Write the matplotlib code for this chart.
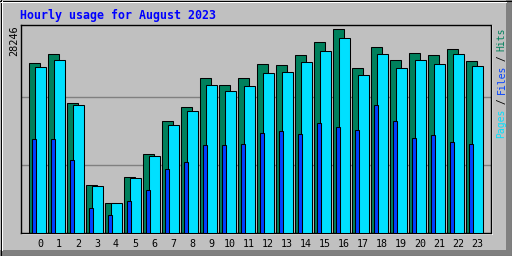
import matplotlib
matplotlib.use("Agg")
from matplotlib import pyplot as plt
from matplotlib.patches import Rectangle
import numpy as np

# Hourly usage, August 2023
hours = list(range(24))
hits = [23514, 24768, 17950, 6540, 4035, 7653, 10853, 15445, 17393, 21428,
        20454, 21428, 23376, 23237, 24628, 26437, 28246, 22820, 25742, 23932,
        24907, 24628, 25463, 23793]
files = [22958, 23932, 17671, 6401, 4035, 7514, 10575, 14888, 16836, 20454,
         19619, 20315, 22124, 22263, 23654, 25185, 26994, 21845, 24768, 22820,
         23932, 23376, 24768, 23098]
pages = [12940, 12940, 10018, 3339, 2365, 4313, 5844, 8766, 9740, 12105,
         12105, 12245, 13775, 14053, 13636, 15166, 14610, 14192, 17671, 15445,
         13079, 13497, 12523, 12245]
hour_labels = [str(h) for h in hours]
title = "Hourly usage for August 2023"

# Colours
bg_col = "#C0C0C0"
hits_col = "#00805C"
files_col = "#00E0FF"
pages_col = "#0040FF"
title_col = "#0000FF"

W, H = 512, 256
fig = plt.figure(figsize=(W / 100, H / 100), dpi=100, facecolor=bg_col)

# Bevelled frame in pixel coordinates
frame = fig.add_axes([0, 0, 1, 1], zorder=-1)
frame.set_xlim(0, W)
frame.set_ylim(H, 0)
frame.axis("off")
frame.add_patch(Rectangle((0, 0), W, H, facecolor=bg_col, edgecolor="none"))
frame.add_patch(Rectangle((W - 6, 0), 6, H, facecolor="#808080", edgecolor="none"))
frame.add_patch(Rectangle((0, H - 6), W, 6, facecolor="#808080", edgecolor="none"))
frame.plot([0, W], [0.5, 0.5], color="black", lw=0.75)
frame.plot([0.5, 0.5], [0, H], color="black", lw=0.75)
frame.plot([1, W - 6], [1.5, 1.5], color="white", lw=0.75)
frame.plot([1.5, 1.5], [1, H - 6], color="white", lw=0.75)
frame.plot([W - 0.5, W - 0.5], [0, H], color="black", lw=0.75)
frame.plot([0, W], [H - 0.5, H - 0.5], color="black", lw=0.75)
# white highlight below/right of the plot area
frame.plot([21, 492], [233.8, 233.8], color="white", lw=0.75)
frame.plot([491.8, 491.8], [25, 234], color="white", lw=0.75)

# Plot area (pixel box 21..490 x 25..232)
px0, px1, py0, py1 = 21, 490.5, 25, 232.5
ax = fig.add_axes([px0 / W, 1 - py1 / H, (px1 - px0) / W, (py1 - py0) / H])
ax.set_facecolor(bg_col)

top = max(hits)
step = 19.0  # px per hour
x = np.array(hours, dtype=float)
ax.bar(x, hits, width=11 / step, align="edge", color=hits_col,
       edgecolor="black", linewidth=0.75, zorder=2)
ax.bar(x + 6 / step, files, width=11 / step, align="edge", color=files_col,
       edgecolor="black", linewidth=0.75, zorder=3)
ax.bar(x + 3 / step, pages, width=4 / step, align="edge", color=pages_col,
       edgecolor="black", linewidth=0.75, zorder=4)

for g in (top / 3, 2 * top / 3):
    ax.axhline(g, color="#808080", lw=1.0, zorder=1)

ax.set_xlim((px0 - 29) / step, (px1 - 29) / step)
ax.set_ylim(0, top * (py1 - py0) / (py1 - 29.3))
ax.set_xticks(x + 11 / step)
ax.set_xticklabels(hour_labels, family="DejaVu Sans Mono", fontsize=7.2)
ax.tick_params(axis="x", length=0, pad=4.5)
ax.set_yticks([])
for s in ax.spines.values():
    s.set_color("black")
    s.set_linewidth(1.0)

# Texts
fig.text(20 / W, 1 - 15 / H, title, color=title_col, fontsize=8.4,
         family="DejaVu Sans Mono", weight="bold", ha="left", va="center")
fig.text(14.5 / W, 1 - 41 / H, str(top), rotation=90, fontsize=7.4,
         family="DejaVu Sans Mono", ha="center", va="center", color="black")

# right-hand legend "Pages / Files / Hits", reading bottom to top
parts = [("Pages", files_col), (" / ", "black"), ("Files", pages_col),
         (" / ", "black"), ("Hits", hits_col)]
n_chars = sum(len(p) for p, _ in parts)
y_start, y_end = 137, 28
char_px = (y_start - y_end) / n_chars
pos = 0
for txt, col in parts:
    yc = y_start - (pos + len(txt) / 2) * char_px
    fig.text(504.5 / W, 1 - yc / H, txt, rotation=90, rotation_mode="anchor",
             fontsize=7.0, family="DejaVu Sans Mono", color=col,
             ha="center", va="baseline")
    pos += len(txt)

fig.savefig("out.png", dpi=100, facecolor=bg_col)
